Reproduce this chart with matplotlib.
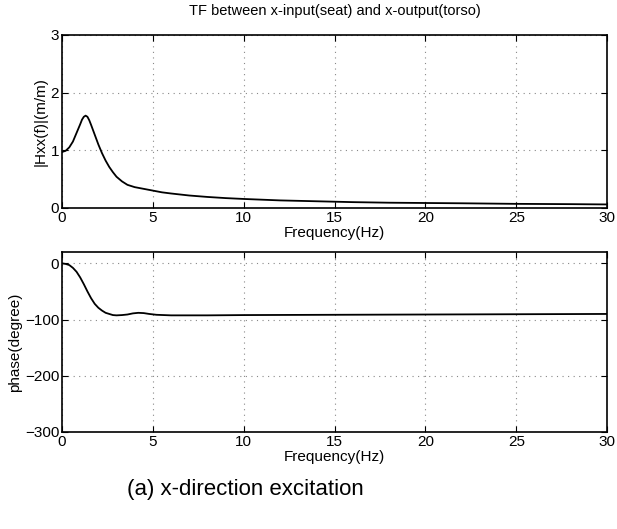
import numpy as np
import matplotlib
matplotlib.use("Agg")
import matplotlib.pyplot as plt

plt.rcParams['font.family'] = ['Liberation Sans', 'DejaVu Sans']

# magnitude |Hxx(f)|
freq_mag = [0, 0.2, 0.4, 0.6, 0.8, 1.0, 1.1, 1.2, 1.3, 1.4, 1.5, 1.6, 1.8, 2.0, 2.2, 2.4, 2.6,
            2.8, 3.0, 3.3, 3.6, 4.0, 4.5, 5.0, 5.5, 6, 7, 8, 9, 10, 12, 14, 16, 18, 20, 22, 25, 28, 30]
mag = [0.97, 0.99, 1.05, 1.15, 1.30, 1.45, 1.53, 1.58, 1.60, 1.58, 1.52, 1.44, 1.27, 1.10, 0.95,
       0.82, 0.71, 0.62, 0.54, 0.46, 0.40, 0.36, 0.33, 0.30, 0.27, 0.25, 0.215, 0.19, 0.17, 0.155,
       0.13, 0.115, 0.10, 0.09, 0.085, 0.08, 0.07, 0.065, 0.06]

# phase (degree)
freq_ph = [0, 0.2, 0.4, 0.6, 0.8, 1.0, 1.2, 1.4, 1.6, 1.8, 2.0, 2.2, 2.4, 2.6, 2.8, 3.0, 3.3,
           3.6, 3.9, 4.2, 4.5, 4.8, 5.2, 5.6, 6, 8, 10, 15, 20, 25, 30]
phase = [0, -1, -3, -8, -15, -25, -37, -50, -62, -72, -79, -84, -88, -90, -92, -92.5, -92,
         -91, -89, -88, -88.5, -90, -91.5, -92, -92.5, -92.5, -92, -91.5, -91, -90.5, -90]

fig = plt.figure(figsize=(6.17, 5.29), dpi=100)
ax1 = fig.add_axes([0.1005, 0.607, 0.8835, 0.327])
ax2 = fig.add_axes([0.1005, 0.1834, 0.8835, 0.340])

for ax in (ax1, ax2):
    ax.set_xlim(0, 30)
    ax.set_xticks([0, 5, 10, 15, 20, 25, 30])
    ax.tick_params(direction='in', top=True, right=True, labelsize=11, length=4, pad=2)
    ax.grid(True, linestyle=(0, (1, 4)), color='#888888', linewidth=0.8)
    for s in ax.spines.values():
        s.set_linewidth(1.2)
    ax.set_xlabel('Frequency(Hz)', fontsize=11, labelpad=1)

ax1.plot(freq_mag, mag, color='black', linewidth=1.3)
ax1.set_ylim(0, 3)
ax1.set_yticks([0, 1, 2, 3])
ax1.set_ylabel('|Hxx(f)|(m/m)', fontsize=11, labelpad=2)
ax1.set_title('TF between x-input(seat) and x-output(torso)', fontsize=10.5, pad=14)

ax2.plot(freq_ph, phase, color='black', linewidth=1.3)
ax2.set_ylim(-300, 20)
ax2.set_yticks([-300, -200, -100, 0])
ax2.set_ylabel('phase(degree)', fontsize=11, labelpad=2)

fig.text(0.397, 0.074, '(a) x-direction excitation', fontsize=16, ha='center', va='center')

fig.savefig('out.png', dpi=100)
